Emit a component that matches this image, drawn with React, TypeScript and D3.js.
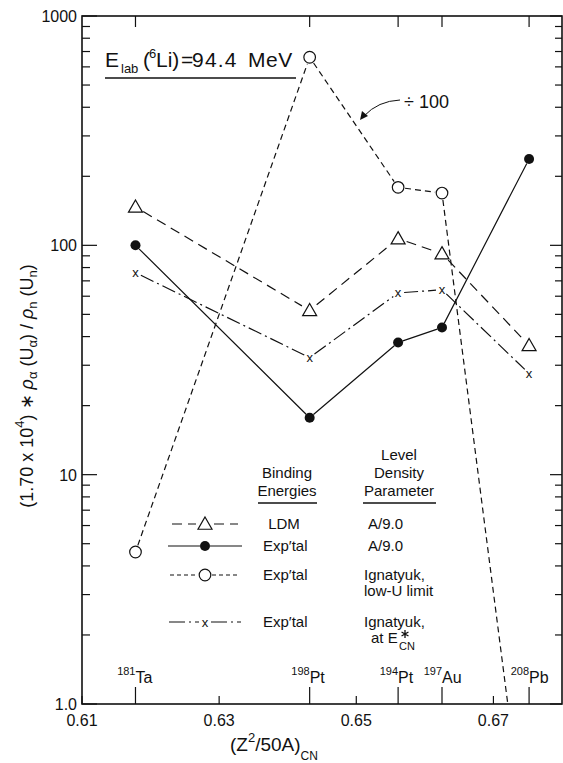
import React from "react";
import * as d3 from "d3";

// Compound-nucleus fissility parameter for each target
const xValues = [0.6178, 0.6432, 0.6561, 0.6625, 0.6752];
const isotopeMass = ["181", "198", "194", "197", "208"];
const isotopeSym = ["Ta", "Pt", "Pt", "Au", "Pb"];

// Series values
const ldmValues = [147, 52, 107, 92, 36.6];
const expValues = [100, 17.7, 37.7, 43.8, 238];
const ignLowValues = [4.6, 661, 179, 169, 0.19]; // divided by 100
const ignEcnValues = [76, 32.4, 62, 64, 27.6];

const xTickValues = [0.61, 0.63, 0.65, 0.67];
const xTickLabels = ["0.61", "0.63", "0.65", "0.67"];
const yTickValues = [1, 10, 100, 1000];
const yTickLabels = ["1.0", "10", "100", "1000"];

const W = 563;
const H = 763;
const left = 82;
const right = 562;
const top = 16;
const bottom = 704;
const FONT = "Liberation Sans, Arial, sans-serif";

const x = d3.scaleLinear().domain([0.61, 0.68]).range([left, right]);
const y = d3.scaleLog().domain([1, 1000]).range([bottom, top]);

type Marker = "triangle" | "filled" | "open" | "cross";

function segmentsPath(pts: [number, number][], gap: number): string {
  let d = "";
  for (let i = 0; i < pts.length - 1; i++) {
    const [x0, y0] = pts[i];
    const [x1, y1] = pts[i + 1];
    const len = Math.hypot(x1 - x0, y1 - y0);
    const ux = (x1 - x0) / len;
    const uy = (y1 - y0) / len;
    d += `M${x0 + ux * gap},${y0 + uy * gap}L${x1 - ux * gap},${y1 - uy * gap}`;
  }
  return d;
}

function MarkerShape({ kind, cx, cy }: { kind: Marker; cx: number; cy: number }) {
  if (kind === "triangle") {
    const s = 7;
    return (
      <path
        d={`M${cx},${cy - s}L${cx + s},${cy + s * 0.75}L${cx - s},${cy + s * 0.75}Z`}
        fill="white"
        stroke="#111"
        strokeWidth={1.2}
      />
    );
  }
  if (kind === "filled") return <circle cx={cx} cy={cy} r={5} fill="#111" />;
  if (kind === "open")
    return <circle cx={cx} cy={cy} r={5.8} fill="white" stroke="#111" strokeWidth={1.2} />;
  return (
    <text x={cx} y={cy + 4.5} textAnchor="middle" fontFamily={FONT} fontSize={13} fill="#111">
      x
    </text>
  );
}

// Six-armed asterisk used for the excitation-energy superscript
function Asterisk({ cx, cy, r }: { cx: number; cy: number; r: number }) {
  const arms = [90, 30, -30].map((a) => {
    const t = (a * Math.PI) / 180;
    return `M${cx - r * Math.cos(t)},${cy - r * Math.sin(t)}L${cx + r * Math.cos(t)},${cy + r * Math.sin(t)}`;
  });
  return <path d={arms.join("")} stroke="#111" strokeWidth={1.3} fill="none" />;
}

const seriesDefs: { values: number[]; marker: Marker; dash: string; gap: number }[] = [
  { values: ldmValues, marker: "triangle", dash: "10,6", gap: 9 },
  { values: expValues, marker: "filled", dash: "", gap: 5 },
  { values: ignLowValues, marker: "open", dash: "6,4", gap: 7 },
  { values: ignEcnValues, marker: "cross", dash: "14,4,2,4", gap: 6 },
];

const legendRows = [
  { marker: "triangle" as Marker, dash: "10,6", gap: 9, y: 524, binding: "LDM", param: "A/9.0" },
  { marker: "filled" as Marker, dash: "", gap: 5, y: 546, binding: "Exp\u2032tal", param: "A/9.0" },
  { marker: "open" as Marker, dash: "4,3", gap: 7, y: 575, binding: "Exp\u2032tal", param: "Ignatyuk," },
  { marker: "cross" as Marker, dash: "16,4,2,4", gap: 6, y: 622, binding: "Exp\u2032tal", param: "Ignatyuk," },
];

export default function App() {
  const logTicks: number[] = [];
  for (let dec = 1; dec < 1000; dec *= 10) {
    for (let k = 1; k < 10; k++) logTicks.push(dec * k);
  }
  logTicks.push(1000);

  return (
    <svg
      width={W}
      height={H}
      style={{ position: "absolute", left: 0, top: 0, background: "white" }}
      fontFamily={FONT}
    >
      <defs>
        <clipPath id="plotArea">
          <rect x={left} y={top} width={right - left} height={bottom - top} />
        </clipPath>
      </defs>

      {/* frame */}
      <rect x={left} y={top} width={right - left} height={bottom - top} fill="none" stroke="#111" strokeWidth={1.6} />

      {/* log ticks on both vertical axes */}
      {logTicks.map((v) => {
        const major = [1, 10, 100, 1000].includes(v);
        const yy = y(v);
        return (
          <g key={v}>
            <line x1={left} x2={left + (major ? 15 : 8)} y1={yy} y2={yy} stroke="#111" strokeWidth={1.2} />
            <line x1={right} x2={right - (major ? 12 : 7)} y1={yy} y2={yy} stroke="#111" strokeWidth={1.2} />
          </g>
        );
      })}
      {yTickValues.map((v, i) => (
        <text key={v} x={77} y={y(v) + 6} textAnchor="end" fontSize={16} fill="#111">
          {yTickLabels[i]}
        </text>
      ))}

      {/* x ticks */}
      {xTickValues.map((v, i) => (
        <g key={v}>
          <line x1={x(v)} x2={x(v)} y1={bottom} y2={bottom - 8} stroke="#111" strokeWidth={1.2} />
          <text x={x(v)} y={726} textAnchor="middle" fontSize={16} fill="#111">
            {xTickLabels[i]}
          </text>
        </g>
      ))}

      {/* isotope ticks and labels */}
      {xValues.map((v, i) => (
        <g key={i}>
          <line x1={x(v)} x2={x(v)} y1={bottom} y2={bottom - 17} stroke="#111" strokeWidth={1.2} />
          <line x1={x(v)} x2={x(v)} y1={top} y2={top + 11} stroke="#111" strokeWidth={1.2} />
          <text x={x(v)} y={675} textAnchor="end" fontSize={11} fill="#111">
            {isotopeMass[i]}
          </text>
          <text x={x(v)} y={683} fontSize={16} fill="#111">
            {isotopeSym[i]}
          </text>
        </g>
      ))}

      {/* series */}
      <g clipPath="url(#plotArea)">
        {seriesDefs.map((s, si) => {
          const pts = s.values.map((v, i) => [x(xValues[i]), y(v)] as [number, number]);
          return (
            <path
              key={si}
              d={segmentsPath(pts, s.gap)}
              fill="none"
              stroke="#111"
              strokeWidth={1.2}
              strokeDasharray={s.dash || undefined}
            />
          );
        })}
        {seriesDefs.map((s, si) =>
          s.values.map((v, i) =>
            v >= 1 ? <MarkerShape key={`${si}-${i}`} kind={s.marker} cx={x(xValues[i])} cy={y(v)} /> : null
          )
        )}
      </g>

      {/* beam energy */}
      <g fill="#111">
        <text x={105} y={67} fontSize={21}>E</text>
        <text x={121} y={73} fontSize={13}>lab</text>
        <text x={143} y={67} fontSize={21}>(</text>
        <text x={149} y={58} fontSize={13}>6</text>
        <text x={156} y={67} fontSize={21}>Li)</text>
        <text x={181} y={67} fontSize={21}>=</text>
        <text x={192} y={67} fontSize={21} letterSpacing={1.2}>94.4</text>
        <text x={248} y={67} fontSize={21} letterSpacing={0.6}>MeV</text>
      </g>
      <line x1={105} x2={296} y1={78} y2={78} stroke="#111" strokeWidth={1.4} />

      {/* scale note with arrow */}
      <text x={404} y={108} fontSize={18} fill="#111">
        ÷ 100
      </text>
      <path d="M400,100 Q378,101 364,116" fill="none" stroke="#111" strokeWidth={1} />
      <path d="M360,120 L362,111 L368,116 Z" fill="#111" />

      {/* legend headers */}
      <g fontSize={15} fill="#111" textAnchor="middle">
        <text x={287} y={478}>Binding</text>
        <text x={287} y={496}>Energies</text>
        <text x={399} y={460}>Level</text>
        <text x={399} y={478}>Density</text>
        <text x={399} y={496}>Parameter</text>
      </g>
      <line x1={258} x2={317} y1={503} y2={503} stroke="#111" strokeWidth={1.4} />
      <line x1={363} x2={436} y1={503} y2={503} stroke="#111" strokeWidth={1.4} />

      {/* legend rows */}
      {legendRows.map((r, i) => (
        <g key={i}>
          <path
            d={segmentsPath(
              [
                [163, r.y],
                [205, r.y],
                [247, r.y],
              ],
              r.gap
            )}
            fill="none"
            stroke="#111"
            strokeWidth={1.2}
            strokeDasharray={r.dash || undefined}
          />
          <MarkerShape kind={r.marker} cx={205} cy={r.y} />
          <text x={i === 0 ? 284 : 263} y={r.y + 5} textAnchor={i === 0 ? "middle" : "start"} fontSize={15} fill="#111">
            {r.binding}
          </text>
          <text x={i < 2 ? 368 : 364} y={r.y + 5} fontSize={15} fill="#111">
            {r.param}
          </text>
        </g>
      ))}
      <g fill="#111">
        <text x={364} y={596} fontSize={15}>low-U limit</text>
        <text x={371} y={643} fontSize={15}>at E</text>
        <text x={399} y={650} fontSize={11}>CN</text>
      </g>
      <Asterisk cx={405} cy={634} r={4} />

      {/* axis titles */}
      <text x={230} y={751} fontSize={19} fill="#111">
        (Z
        <tspan fontSize={13} dy={-9}>2</tspan>
        <tspan dy={9}>/50A)</tspan>
        <tspan fontSize={12} dy={9}>CN</tspan>
      </text>
      <text transform="translate(33,386) rotate(-90)" textAnchor="middle" fontSize={18} fill="#111">
        (1.70 x 10
        <tspan fontSize={13} dy={-9}>4</tspan>
        <tspan dy={9}>) ∗ </tspan>
        <tspan fontStyle="italic">ρ</tspan>
        <tspan fontSize={13} dy={4}>α</tspan>
        <tspan dy={-4}> (U</tspan>
        <tspan fontSize={13} dy={4}>α</tspan>
        <tspan dy={-4}>) / </tspan>
        <tspan fontStyle="italic">ρ</tspan>
        <tspan fontSize={13} dy={4}>n</tspan>
        <tspan dy={-4}> (U</tspan>
        <tspan fontSize={13} dy={4}>n</tspan>
        <tspan dy={-4}>)</tspan>
      </text>
    </svg>
  );
}
